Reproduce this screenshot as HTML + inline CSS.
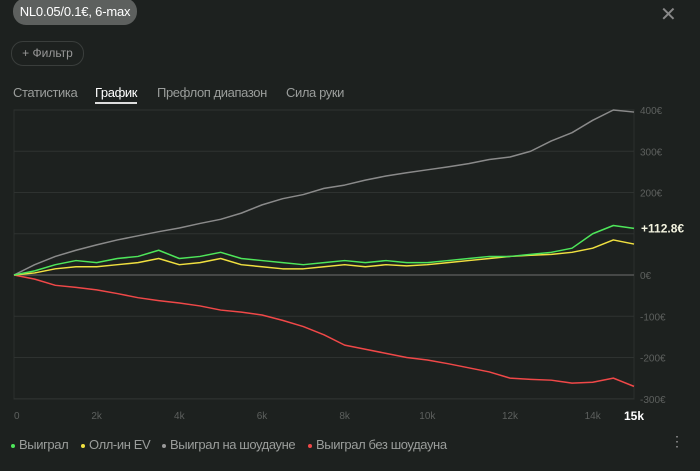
<!DOCTYPE html>
<html><head><meta charset="utf-8"><style>
body{margin:0;background:#1d211f;width:700px;height:471px;overflow:hidden;font-family:"Liberation Sans","Noto Sans CJK SC",sans-serif;position:relative}
.pill{position:absolute;left:13px;top:-2px;width:124px;height:27px;background:#5d605e;border-radius:13px;color:#fff;font-size:13px;line-height:27px;text-align:center;letter-spacing:-0.2px}
.close{position:absolute;left:660px;top:2px;color:#888;font-size:20px}
.filter{position:absolute;left:11px;top:41px;width:71px;height:23px;border:1px solid #3a3e3c;border-radius:12px;color:#999;font-size:12px;line-height:23px;text-align:center}
.tab{position:absolute;top:85px;font-size:13px;color:#9a9d9b;letter-spacing:-0.4px}
.leg{position:absolute;top:437px;font-size:13px;color:#9a9d9b;letter-spacing:-0.4px;white-space:nowrap}
.dot{display:inline-block;width:4px;height:4px;border-radius:2px;margin-right:4px;vertical-align:middle}
</style></head><body>
<div class="pill">NL0.05/0.1€, 6-max</div>
<div class="close">✕</div>
<div class="filter">+ Фильтр</div>
<div class="tab" style="left:13px">Статистика</div>
<div class="tab" style="left:95px;color:#fff;border-bottom:2px solid #ddd;padding-bottom:2px">График</div>
<div class="tab" style="left:157px">Префлоп диапазон</div>
<div class="tab" style="left:286px">Сила руки</div>
<svg id="chart" width="700" height="471" style="position:absolute;left:0;top:0"></svg>
<div class="leg" style="left:11px"><span class="dot" style="background:#4ee65a"></span>Выиграл</div>
<div class="leg" style="left:81px"><span class="dot" style="background:#f0e040"></span>Олл-ин EV</div>
<div class="leg" style="left:162px"><span class="dot" style="background:#999"></span>Выиграл на шоудауне</div>
<div class="leg" style="left:308px"><span class="dot" style="background:#f04848"></span>Выиграл без шоудауна</div>
<div style="position:absolute;left:670px;top:433px;color:#999;font-size:14px">⋮</div>
<script>
const hands=[0,500,1000,1500,2000,2500,3000,3500,4000,4500,5000,5500,6000,6500,7000,7500,8000,8500,9000,9500,10000,10500,11000,11500,12000,12500,13000,13500,14000,14500,15000];
const won=[0,10,25,35,30,40,45,60,40,45,55,40,35,30,25,30,35,30,35,30,30,35,40,45,45,50,55,65,100,120,113];
const allinEv=[0,5,15,20,20,25,30,40,25,30,40,25,20,15,15,20,25,20,25,22,25,30,35,40,45,48,50,55,65,85,75];
const showdown=[0,25,45,60,73,85,95,105,114,125,135,150,170,185,195,210,218,230,240,248,255,262,270,280,286,300,325,345,375,400,395];
const nonShowdown=[0,-10,-25,-30,-36,-45,-55,-62,-68,-75,-85,-90,-97,-110,-125,-145,-170,-180,-190,-200,-206,-215,-225,-235,-250,-253,-255,-262,-260,-250,-270];
const yTicks=[400,300,200,100,0,-100,-200,-300];
const xTicks=[0,2000,4000,6000,8000,10000,12000,14000];
const finalLabel="+112.8€";
const X=v=>14+v*(620/15000), Y=v=>275-v*0.4125;
const svg=document.getElementById('chart'),NS='http://www.w3.org/2000/svg';
function el(t,a){const e=document.createElementNS(NS,t);for(const k in a)e.setAttribute(k,a[k]);svg.appendChild(e);return e;}
const frame=el('rect',{x:14,y:110,width:620,height:289,fill:'none',stroke:'#2c302e'});


const lastVal=won[won.length-1];
yTicks.forEach(v=>{
 const l=el('line',{x1:14,x2:634,y1:Y(v),y2:Y(v),stroke:v===0?'#555':'#2e3230','stroke-width':v===0?1.5:1});
 
 
 if(Math.abs(Y(v)-Y(lastVal))<12) return;
 const t=el('text',{x:640,y:Y(v)+4,fill:'#5d605e','font-size':10,'font-family':'Liberation Sans'});
 t.textContent=v+'€';
 
 
});
xTicks.forEach(v=>{
 const t=el('text',{x:X(v),y:419,fill:'#5d605e','font-size':10,'font-family':'Liberation Sans','text-anchor':v===0?'start':'middle'});
 t.textContent=v===0?'0':(v/1000)+'k';
 
 
});
const t15=el('text',{x:634,y:420,fill:'#fff','font-size':12,'font-weight':'bold','font-family':'Liberation Sans','text-anchor':'middle'});
t15.textContent='15k';


function line(data,color,name){
 const p=el('polyline',{points:data.map((v,i)=>X(hands[i])+','+Y(v)).join(' '),fill:'none',stroke:color,'stroke-width':1.5,'stroke-linejoin':'round'});
 
 
}
line(showdown,'#8a8a8a','showdown-line');
line(nonShowdown,'#f04848','non-showdown-line');
line(allinEv,'#f0e040','allin-ev-line');
line(won,'#4ee65a','won-line');
const fl=el('text',{x:641,y:Y(lastVal)+4,fill:'#f4f4e0','font-size':12,'font-weight':'bold','font-family':'Liberation Sans'});
fl.textContent=finalLabel;


</script>
</body></html>
